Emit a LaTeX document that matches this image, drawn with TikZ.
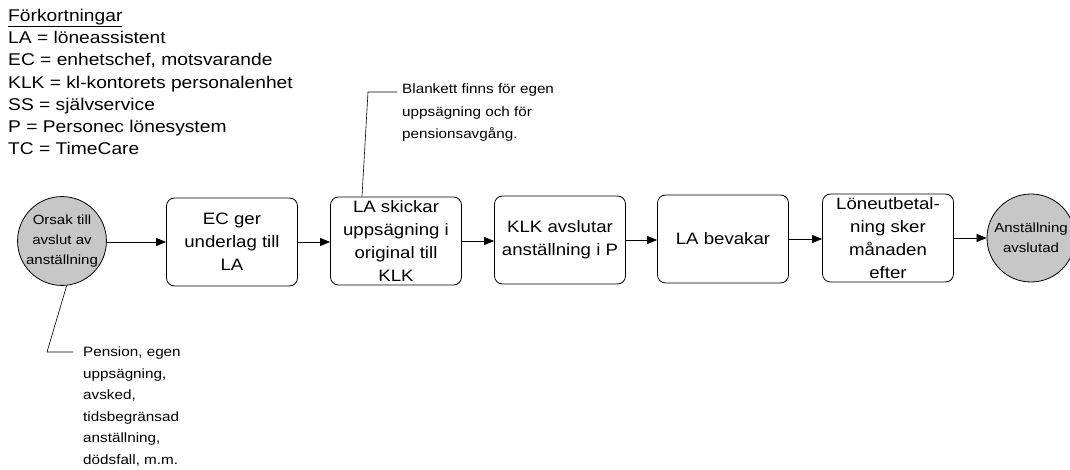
\documentclass[tikz,border=0pt]{standalone}
\usepackage{fontspec}
\setmainfont[FakeStretch=1.13]{Liberation Sans}
\usetikzlibrary{arrows.meta}
\tikzset{
  stepbox/.style={draw=black, line width=0.8pt, rounded corners=8pt, minimum width=131pt, minimum height=88pt, inner sep=0pt, align=center, font=\fontsize{16.5}{23}\selectfont},
  endcircle/.style={draw=black, line width=0.8pt, circle, fill=black!22, minimum size=88pt, inner sep=0pt, align=center, font=\fontsize{13.3}{20}\selectfont},
  flow/.style={line width=0.7pt, -{Triangle[length=10pt,width=8pt]}},
  callout/.style={line width=0.6pt},
  notetext/.style={anchor=north west, inner sep=0pt, align=left, font=\fontsize{13.5}{21.5}\selectfont}
}
\begin{document}
\begin{tikzpicture}[x=1pt,y=-1pt]
\useasboundingbox (0,0) rectangle (1070,470);
\clip (0,0) rectangle (1070,470);
\fill[white] (0,0) rectangle (1070,470);

% legend
\node[anchor=north west, inner sep=0pt, align=left, font=\fontsize{17}{22.2}\selectfont] (legend) at (8,9)
  {\underline{Förkortningar}\\
   LA = löneassistent\\
   EC = enhetschef, motsvarande\\
   KLK = kl-kontorets personalenhet\\
   SS = självservice\\
   P = Personec lönesystem\\
   TC = TimeCare};

% flow
\node[endcircle] (o1) at (62,241) {Orsak till\\avslut av\\anställning};
\node[stepbox] (b1) at (232,242) {EC ger\\underlag till\\LA};
\node[stepbox] (b2) at (396,241) {LA skickar\\uppsägning i\\original till\\KLK};
\node[stepbox] (b3) at (560,240) {KLK avslutar\\anställning i P};
\node[stepbox] (b4) at (723,239) {LA bevakar};
\node[stepbox] (b5) at (888,238) {Löneutbetal-\\ning sker\\månaden\\efter};
\node[endcircle] (o2) at (1031,238) {Anställning\\avslutad};

\draw[flow] (o1.east |- b1.west) -- (b1.west);
\draw[flow] (b1.east) -- (b2.west |- b1.east);
\draw[flow] (b2.east) -- (b3.west |- b2.east);
\draw[flow] (b3.east) -- (b4.west |- b3.east);
\draw[flow] (b4.east) -- (b5.west |- b4.east);
\draw[flow] (b5.east) -- (o2.west |- b5.east);

% callout 1
\node[notetext, font=\fontsize{13.5}{22.5}\selectfont] (n1) at (402,84)
  {Blankett finns för egen\\uppsägning och för\\pensionsavgång.};
\coordinate (c1a) at (362,196.5);
\coordinate (c1b) at (368,92);
\coordinate (c1c) at (397,92);
\draw[callout] (c1a) -- (c1b) -- (c1c);

% callout 2
\node[notetext] (n2) at (83,347)
  {Pension, egen\\uppsägning,\\avsked,\\tidsbegränsad\\anställning,\\dödsfall, m.m.};
\coordinate (c2b) at (47,352);
\coordinate (c2c) at (73,352);
\draw[callout] (o1.-84) -- (c2b) -- (c2c);
\end{tikzpicture}
\end{document}
